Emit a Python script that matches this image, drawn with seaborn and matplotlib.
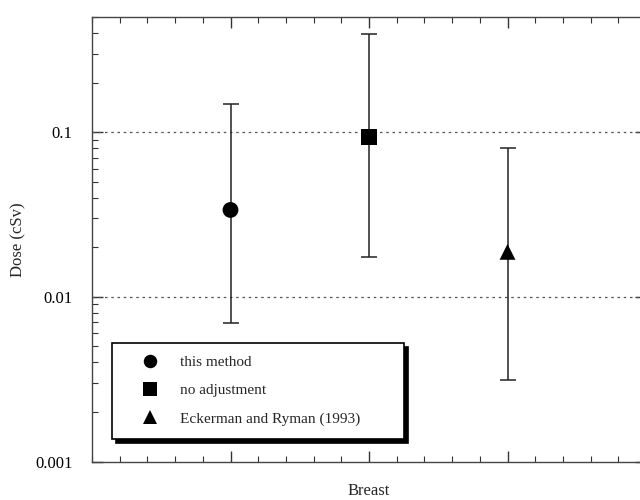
import numpy as np
import pandas as pd
import matplotlib
matplotlib.use("Agg")
import matplotlib.pyplot as plt
import seaborn as sns
from matplotlib.ticker import LogLocator, MultipleLocator, NullFormatter, FixedLocator

# Data
methods = ["this method", "no adjustment", "Eckerman and Ryman (1993)"]
positions = [1, 2, 3]
dose = [0.0338, 0.094, 0.0188]
dose_low = [0.00695, 0.0175, 0.00313]
dose_high = [0.149, 0.397, 0.0805]
markers = ["o", "s", "^"]

df = pd.DataFrame({"method": methods, "x": positions, "dose": dose,
                   "low": dose_low, "high": dose_high})

sns.set_style("ticks")
plt.rcParams["font.family"] = ["Liberation Serif", "DejaVu Serif"]

fig = plt.figure(figsize=(6.4, 5), dpi=100)
ax = fig.add_axes([92 / 640, 38.5 / 500, 554 / 640, 444.5 / 500])

# error bars
yerr = np.array([df["dose"] - df["low"], df["high"] - df["dose"]])
ax.errorbar(df["x"], df["dose"], yerr=yerr, fmt="none", ecolor="#222222",
            elinewidth=1.1, capsize=6, capthick=1.1, zorder=2)

# markers
sns.scatterplot(data=df, x="x", y="dose", style="method", markers=dict(zip(methods, markers)),
                style_order=methods, color="black", s=130, edgecolor="black",
                linewidth=0, ax=ax, zorder=3)

ax.set_yscale("log")
ax.set_ylim(0.001, 0.503)
ax.set_xlim(0, 4)

# gridlines at major decades
for v in [0.01, 0.1]:
    ax.axhline(v, color="#555555", linestyle=(0, (2, 3)), linewidth=0.9, zorder=1)

ax.yaxis.set_major_locator(FixedLocator([0.001, 0.01, 0.1]))
ax.set_yticklabels(["0.001", "0.01", "0.1"])
ax.yaxis.set_minor_locator(LogLocator(base=10, subs=np.arange(2, 10)))
ax.yaxis.set_minor_formatter(NullFormatter())
ax.xaxis.set_major_locator(FixedLocator(positions))
ax.xaxis.set_minor_locator(MultipleLocator(0.2))
ax.set_xticklabels([])

ax.tick_params(which="both", direction="in", top=True, right=True, colors="#333333",
               labelcolor="black", labelsize=12, pad=14)
ax.tick_params(which="major", length=8, width=1)
ax.tick_params(which="minor", length=4, width=0.8)
for sp in ax.spines.values():
    sp.set_color("#444444")
    sp.set_linewidth(1)

ax.set_xlabel("Breast", fontsize=12)
ax.xaxis.set_label_coords(0.5, -0.048)
ax.set_ylabel("Dose (cSv)", fontsize=12, labelpad=6)

leg = ax.legend(loc="lower left", bbox_to_anchor=(0.036, 0.051, 0.527, 0.214),
                mode="expand", frameon=True, fancybox=False,
                shadow={"color": "black", "alpha": 1, "ox": 3, "oy": -3},
                fontsize=11, labelspacing=0.95, handlelength=3.3, handletextpad=0.3,
                borderpad=0.85, borderaxespad=0, markerscale=0.85)
leg.get_frame().set_edgecolor("black")
leg.get_frame().set_linewidth(1.2)
leg.get_frame().set_alpha(1)

fig.savefig("out.png", dpi=100)
